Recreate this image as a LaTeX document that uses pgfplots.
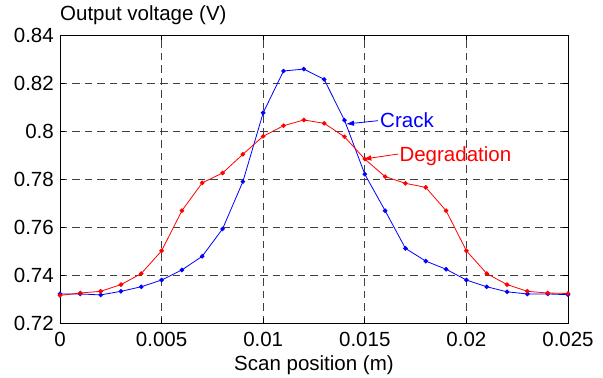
\documentclass[border=0pt]{standalone}
\usepackage{fontspec}
\setmainfont{Liberation Sans}
\usepackage{pgfplots}
\pgfplotsset{compat=1.18}
\usetikzlibrary{arrows.meta}
\newcommand{\fs}{\fontsize{20.5bp}{24bp}\selectfont}
\pgfplotstableread{
x y
0 0.7321
0.001 0.7321
0.002 0.7317
0.003 0.7332
0.004 0.7351
0.005 0.7379
0.006 0.7421
0.007 0.7478
0.008 0.7592
0.009 0.7789
0.010 0.8076
0.011 0.8250
0.012 0.8258
0.013 0.8215
0.014 0.8045
0.015 0.7820
0.016 0.7668
0.017 0.7511
0.018 0.7458
0.019 0.7424
0.020 0.7379
0.021 0.7351
0.022 0.7330
0.023 0.7321
0.024 0.7321
0.025 0.7318
}\crack
\pgfplotstableread{
x y
0 0.7315
0.001 0.7325
0.002 0.7332
0.003 0.7360
0.004 0.7406
0.005 0.7501
0.006 0.7668
0.007 0.7784
0.008 0.7825
0.009 0.7903
0.010 0.7978
0.011 0.8022
0.012 0.8046
0.013 0.8032
0.014 0.7976
0.015 0.7883
0.016 0.7810
0.017 0.7782
0.018 0.7765
0.019 0.7668
0.020 0.7501
0.021 0.7406
0.022 0.7360
0.023 0.7332
0.024 0.7325
0.025 0.7323
}\degr
\begin{document}
\begin{tikzpicture}
\useasboundingbox (-60bp,-55bp) rectangle (543bp,323bp);
\begin{axis}[
  at={(0,0)}, anchor=south west,
  width=508bp, height=288bp, scale only axis,
  xmin=0, xmax=0.025, ymin=0.72, ymax=0.84,
  xtick={0,0.005,0.01,0.015,0.02,0.025},
  xticklabels={0,0.005,0.01,0.015,0.02,0.025},
  ytick={0.72,0.74,0.76,0.78,0.8,0.82,0.84},
  yticklabels={0.72,0.74,0.76,0.78,0.8,0.82,0.84},
  scaled ticks=false,
  tick align=inside, major tick length=5bp,
  xtick pos=both, ytick pos=both,
  grid=major,
  major grid style={black!75, line width=0.8bp, dash pattern=on 7.5bp off 5bp},
  axis line style={black, line width=0.9bp},
  tick style={black, line width=0.9bp},
  tick label style={font=\fs},
  xticklabel style={anchor=north, inner sep=0pt, yshift=-9bp},
  yticklabel style={anchor=east, inner sep=0pt, xshift=-6bp},
  xlabel={Scan position (m)},
  xlabel style={at={(axis description cs:0.5,0)}, anchor=base, yshift=-47bp, inner sep=0pt, font=\fs},
  title={Output voltage (V)},
  title style={at={(axis description cs:0,1)}, anchor=base west, yshift=9bp, inner sep=0pt, font=\fs},
  clip=false,
]
\addplot[blue, line width=0.8bp, mark=*, mark size=1.9bp, mark options={solid}] table[x=x,y=y] {\crack};
\addplot[red, line width=0.8bp, mark=*, mark size=1.9bp, mark options={solid}] table[x=x,y=y] {\degr};
\draw[blue, line width=0.8bp, -{Latex[length=8bp,width=5.5bp]}] (axis cs:0.01565,0.8043) -- (axis cs:0.014075,0.8029);
\node[blue, anchor=base west, inner sep=0pt, font=\fs] at (axis cs:0.01575,0.80154) {Crack};
\draw[red, line width=0.8bp, -{Latex[length=8bp,width=5.5bp]}] (axis cs:0.01665,0.7904) -- (axis cs:0.014926,0.7883);
\node[red, anchor=base west, inner sep=0pt, font=\fs] at (axis cs:0.0167,0.7872) {Degradation};
\end{axis}
\end{tikzpicture}
\end{document}
